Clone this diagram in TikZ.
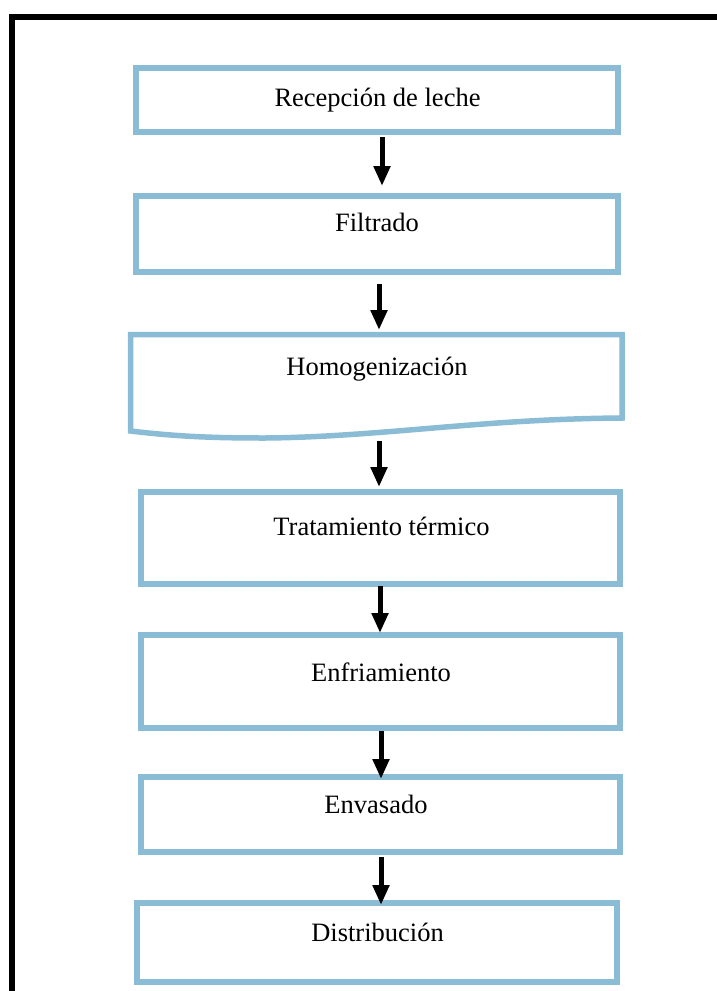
\documentclass[tikz,border=0pt]{standalone}
\usepackage{fontspec}
\setmainfont{Liberation Serif}
\usetikzlibrary{arrows.meta,calc}
\definecolor{boxblue}{RGB}{139,188,214}
\tikzset{
  box/.style={draw=boxblue, line width=5.5pt, inner sep=0pt, outer sep=0pt},
  lbl/.style={anchor=base, inner sep=0pt, font=\fontsize{26.5pt}{30pt}\selectfont},
  arr/.style={line width=5pt, -{Triangle[length=20pt,width=16pt]}},
  frame/.style={line width=6pt, line cap=rect}
}
\begin{document}
\begin{tikzpicture}[x=1pt,y=-1pt]
\useasboundingbox (0,0) rectangle (717,991);
% outer frame
\draw[frame] (12,1000) -- (12,17) -- (730,17);
% boxes
\node[box, minimum width=482pt, minimum height=64pt] (b1) at (377,100) {};
\node[box, minimum width=482pt, minimum height=76pt] (b2) at (377,234) {};
\draw[box, line join=miter] (130.5,431) -- (130.5,334.5) -- (622,334.5) -- (622,418)
  .. controls (480,419) and (380,437) .. (265,438)
  .. controls (220,438) and (180,437) .. (130.5,431) -- cycle;
\coordinate (b3top) at (377,332);
\coordinate (b3bot) at (377,433);
\node[box, minimum width=479pt, minimum height=92pt] (b4) at (380.5,538) {};
\node[box, minimum width=479pt, minimum height=93pt] (b5) at (380.5,681.5) {};
\node[box, minimum width=479pt, minimum height=75pt] (b6) at (380.5,814.5) {};
\node[box, minimum width=480pt, minimum height=79pt] (b7) at (377,942.5) {};
% labels
\node[lbl] (t1) at (377.5,106.7) {Recepción de leche};
\node[lbl] (t2) at (377,231.7) {Filtrado};
\node[lbl] (t3) at (377,375) {Homogenización};
\node[lbl] (t4) at (381.5,535) {Tratamiento térmico};
\node[lbl] (t5) at (381,681) {Enfriamiento};
\node[lbl] (t6) at (376,813) {Envasado};
\node[lbl] (t7) at (377.5,941) {Distribución};
% arrows
\draw[arr] ($(b1.south)+(5,5)$) -- ($(b2.north)+(5,-10)$);
\draw[arr] ($(b2.south)+(2,12)$) -- ($(b3top)+(2,-2)$);
\draw[arr] ($(b3bot)+(2,8)$) -- ($(b4.north)+(-1.5,-5)$);
\draw[arr] ($(b4.south)+(-0.5,2)$) -- ($(b5.north)+(-0.5,-2)$);
\draw[arr] ($(b5.south)+(0.5,3)$) -- ($(b6.north)+(0.5,2)$);
\draw[arr] ($(b6.south)+(0.5,5)$) -- ($(b7.north)+(4,2)$);
\end{tikzpicture}
\end{document}
